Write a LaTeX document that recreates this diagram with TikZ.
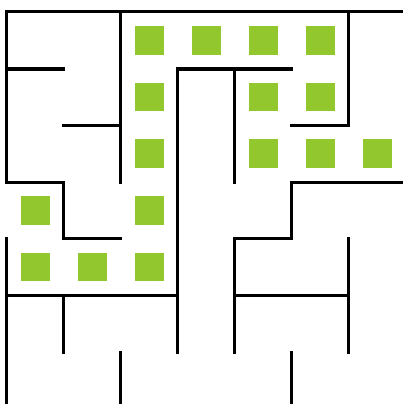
\documentclass[tikz,border=0pt]{standalone}
\usetikzlibrary{positioning}
\definecolor{cellgreen}{RGB}{146,200,46}
\begin{document}
\begin{tikzpicture}[x=1pt,y=-1pt,
  wall/.style={line width=3pt,black,line cap=rect,line join=miter},
  cell/.style={fill=cellgreen,draw=none,minimum size=28.5pt,inner sep=0pt}]
\useasboundingbox[fill=white] (0,0) rectangle (402,404);
% walls
\draw[wall] (6,12) -- (402,12);
\draw[wall] (6,12) -- (6,182) -- (63,182) -- (63,238) -- (120,238);
\draw[wall] (6,238) -- (6,404);
\draw[wall] (6,69) -- (63,69);
\draw[wall] (63,125) -- (120,125);
\draw[wall] (120,12) -- (120,182);
\draw[wall] (177,352) -- (177,69) -- (291,69);
\draw[wall] (6,295) -- (177,295);
\draw[wall] (63,295) -- (63,352);
\draw[wall] (120,352) -- (120,404);
\draw[wall] (234,69) -- (234,182);
\draw[wall] (348,12) -- (348,125) -- (291,125);
\draw[wall] (402,182) -- (291,182) -- (291,238) -- (234,238) -- (234,352);
\draw[wall] (234,295) -- (348,295);
\draw[wall] (348,238) -- (348,352);
\draw[wall] (291,352) -- (291,404);
% green cells
\foreach \c/\r [count=\i] in {2/0,3/0,4/0,5/0,2/1,4/1,5/1,2/2,4/2,5/2,6/2,0/3,2/3,0/4,1/4,2/4}{
  \node[cell] (g\i) at ({35.5+57*\c},{40.5+56.6*\r}) {};
}
\end{tikzpicture}
\end{document}
